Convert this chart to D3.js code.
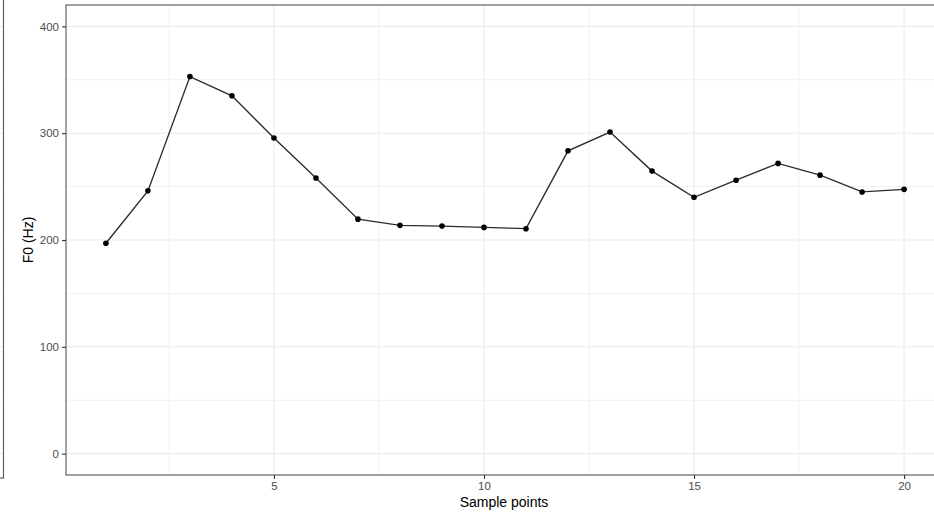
<!DOCTYPE html>
<html>
<head>
<meta charset="utf-8">
<script src="https://cdn.jsdelivr.net/npm/d3@7"></script>
<style>
  body { margin: 0; background: #fff; }
  svg { display: block; font-family: Arial, "Liberation Sans", sans-serif; }
</style>
</head>
<body>
<svg id="chart" width="934" height="515"></svg>
<script>
// ***************** DATA ********************
var samples = d3.range(1, 21);
var f0 = [197, 246, 353, 335, 295.5, 258, 219.5, 213.7, 213, 211.8,
          210.6, 283.5, 301, 264.5, 240, 256, 271.7, 260.7, 245, 247.4];
var xTicks = [5, 10, 15, 20];
var xMinor = [2.5, 7.5, 12.5, 17.5];
var yTicks = [0, 100, 200, 300, 400];
var yMinor = [50, 150, 250, 350];

var svg = d3.select("#chart");
var margin = {left: 66, top: 5, bottom: 475, right: 944};

var x = d3.scaleLinear().domain([0.05, 20.95]).range([margin.left, margin.right]);
var y = d3.scaleLinear().domain([-20, 420]).range([margin.bottom, margin.top]);

// ***************** neighbour panel, cropped on the left ********************
var side = svg.append("g");
side.selectAll("line.grid")
	.data(yMinor.concat(yTicks))
	.enter()
	.append("line")
	.attr("x1", 0).attr("x2", 3.5)
	.attr("y1", function(d) { return y(d) }).attr("y2", function(d) { return y(d) })
	.attr("stroke", "#ebebeb")
	.attr("stroke-width", function(d) { return d % 100 ? 0.6 : 1.1 })
side.append("rect")
	.attr("x", -20).attr("y", -5).attr("width", 23.5).attr("height", 483)
	.attr("fill", "none").attr("stroke", "#555").attr("stroke-width", 1.1)

// ***************** GRID ********************
var grid = svg.append("g");
var addGrid = function(vals, horiz, w){
	grid.selectAll(null)
		.data(vals)
		.enter()
		.append("line")
		.attr("x1", function(d) { return horiz ? margin.left : x(d) })
		.attr("x2", function(d) { return horiz ? margin.right : x(d) })
		.attr("y1", function(d) { return horiz ? y(d) : margin.top })
		.attr("y2", function(d) { return horiz ? y(d) : margin.bottom })
		.attr("stroke", "#ebebeb")
		.attr("stroke-width", w)
}
addGrid(yMinor, true, 0.7);
addGrid(xMinor, false, 0.7);
addGrid(yTicks, true, 1.1);
addGrid(xTicks, false, 1.1);

// ***************** LINE + POINTS ********************
var line = d3.line()
	.x(function(d, i) { return x(samples[i]) })
	.y(function(d) { return y(d) });

svg.append("path")
	.datum(f0)
	.attr("d", line)
	.attr("fill", "none")
	.attr("stroke", "#2b2b2b")
	.attr("stroke-width", 1.35)

svg.selectAll("circle.pt")
	.data(f0)
	.enter()
	.append("circle")
	.classed("pt", true)
	.attr("cx", function(d, i) { return x(samples[i]) })
	.attr("cy", function(d) { return y(d) })
	.attr("r", 2.8)
	.attr("fill", "#000")

// ***************** PANEL BORDER ********************
svg.append("rect")
	.attr("x", margin.left).attr("y", margin.top)
	.attr("width", margin.right - margin.left).attr("height", margin.bottom - margin.top)
	.attr("fill", "none").attr("stroke", "#555").attr("stroke-width", 1.1)

// ***************** AXES ********************
var xAxis = svg.append("g")
	.attr("transform", "translate(0," + margin.bottom + ")")
	.call(d3.axisBottom(x).tickValues(xTicks).tickSize(4).tickPadding(3));
var yAxis = svg.append("g")
	.attr("transform", "translate(" + margin.left + ",0)")
	.call(d3.axisLeft(y).tickValues(yTicks).tickSize(4).tickPadding(3));

[xAxis, yAxis].forEach(function(a){
	a.select(".domain").remove();
	a.selectAll(".tick line").attr("stroke", "#333").attr("stroke-width", 1.1);
	a.selectAll(".tick text")
		.attr("fill", "#4d4d4d")
		.style("font-size", "11.5px")
		.style("font-family", "Arial, 'Liberation Sans', sans-serif");
});

// ***************** TITLES ********************
svg.append("text")
	.attr("x", (margin.left + margin.right) / 2 - 1)
	.attr("y", 507)
	.attr("text-anchor", "middle")
	.style("font-size", "14px")
	.attr("fill", "#000")
	.text("Sample points")

svg.append("text")
	.attr("transform", "translate(33," + (margin.top + margin.bottom) / 2 + ") rotate(-90)")
	.attr("text-anchor", "middle")
	.style("font-size", "14px")
	.attr("fill", "#000")
	.text("F0 (Hz)")
</script>
</body>
</html>
